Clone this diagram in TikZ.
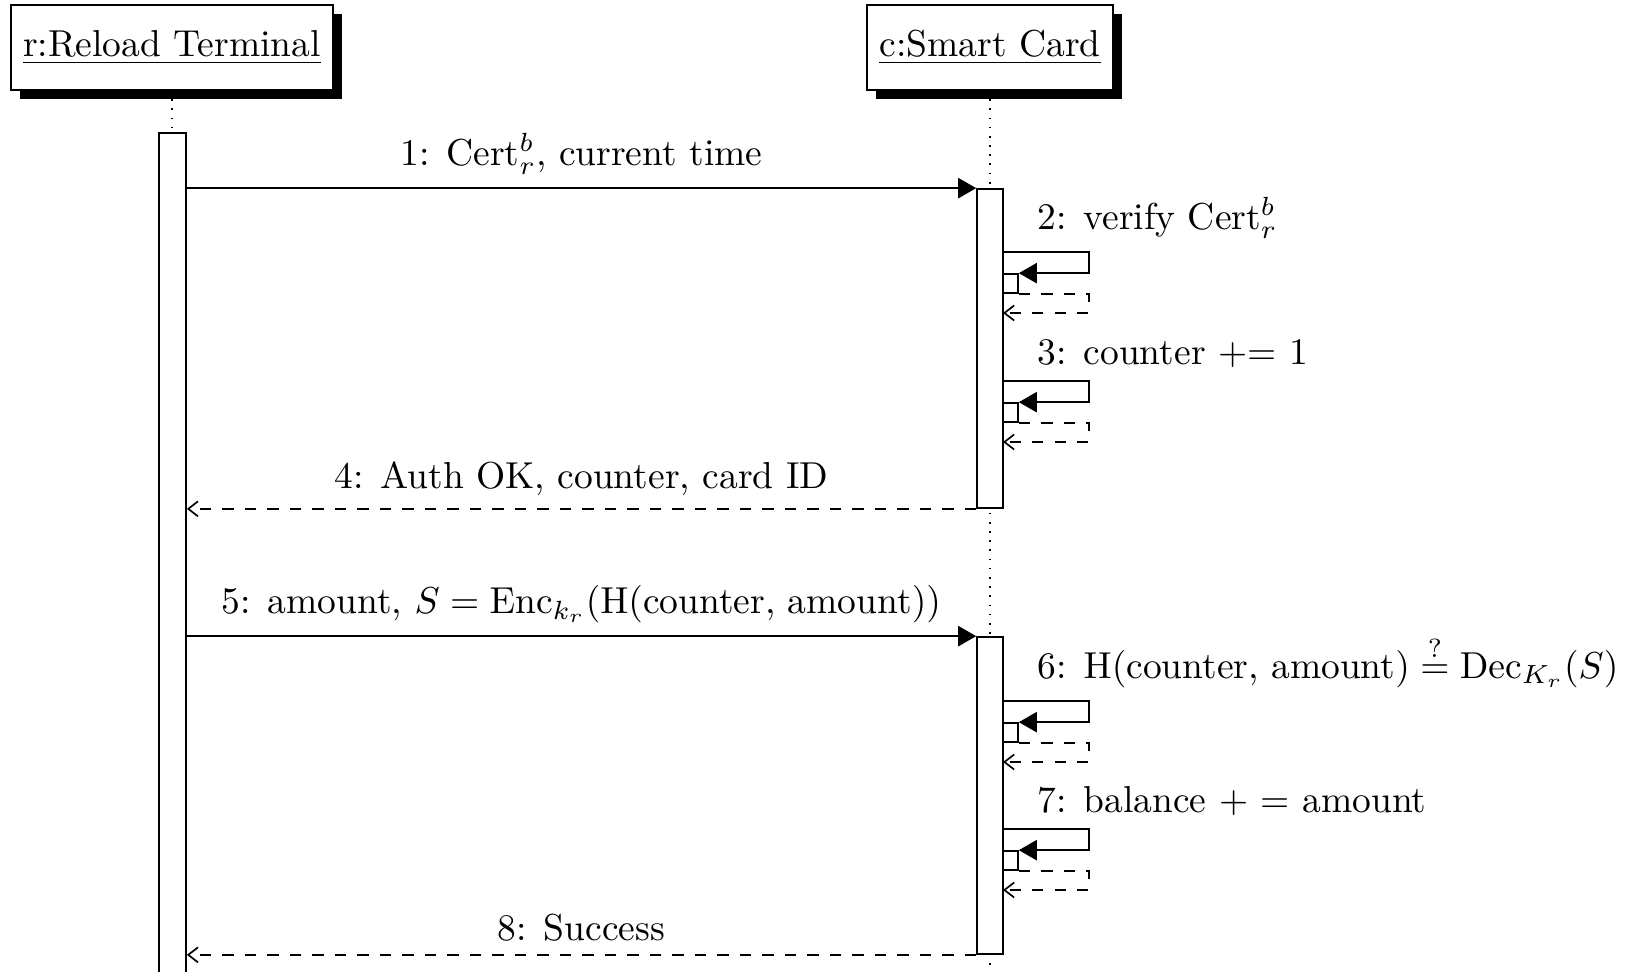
\documentclass[tikz,border=0pt]{standalone}
\usepackage{amsmath}
\usetikzlibrary{arrows.meta,shadows,fit}

\tikzset{
  inst/.style={draw, fill=white, rectangle, minimum height=0.8cm, inner sep=0.3333em,
    line width=0.45pt,
    drop shadow={opacity=1, fill=black, shadow xshift=2.4pt, shadow yshift=-2.4pt}},
  lifeline/.style={dotted, line width=0.45pt},
  actbox/.style={draw, fill=white, rectangle, inner sep=0pt, line width=0.45pt},
  callline/.style={-{Triangle[length=4.8pt,width=5.4pt]}, line width=0.45pt},
  retline/.style={dashed, -{Straight Barb[length=2.6pt,width=4pt]}, line width=0.45pt},
}

% self message on the card: call out and back into a nested block, then dashed return
\newcommand{\selfmsg}[3]{%
  \coordinate (#1-out) at (1003,#2);
  \coordinate (#1-turn) at (1089,#2);
  \coordinate (#1-a) at (1003,#2+22);
  \coordinate (#1-b) at (1018,#2+41);
  \coordinate (#1-back) at (1003,#2+61);
  \node[actbox, fit=(#1-a)(#1-b)] (#1-box) {};
  \draw[callline] (#1-out) -- node[pos=0.25, above right] (#1-lab) {#3} (#1-turn) |- (#1-box.north east);
  \draw[retline] (#1-box.south east) -- (#1-turn |- #1-box.south) |- (#1-back);
}

\begin{document}
\begin{tikzpicture}[x=0.26667pt, y=-0.26667pt]
\path[use as bounding box] (0,0) rectangle (1635,971);
\clip (0,0) rectangle (1635,971);

% lifelines
\coordinate (rt-end) at (172,1000);
\coordinate (sc-end) at (990,1000);
\draw[lifeline] (172,90) -- (rt-end);
\draw[lifeline] (990,90) -- (sc-end);

% activation blocks
\coordinate (tb-a) at (159,133);
\coordinate (tb-b) at (186,1000);
\node[actbox, fit=(tb-a)(tb-b)] (tb) {};
\coordinate (cb1-a) at (977,189);
\coordinate (cb1-b) at (1003,508);
\node[actbox, fit=(cb1-a)(cb1-b)] (cb1) {};
\coordinate (cb2-a) at (977,637);
\coordinate (cb2-b) at (1003,954);
\node[actbox, fit=(cb2-a)(cb2-b)] (cb2) {};

% instances
\node[inst] (rt) at (172,47.5) {\underline{r:Reload Terminal}};
\node[inst] (sc) at (990,47.5) {\underline{c:Smart Card}};

% messages
\draw[callline] (tb.east |- cb1.north) -- node[midway, above] (m1) {1: Cert$_r^b$, current time} (cb1.north west);
\selfmsg{s2}{252}{2: verify Cert$_r^b$}
\selfmsg{s3}{381}{3: counter += 1}
\draw[retline] (cb1.south west) -- node[midway, above] (m4) {4: Auth OK, counter, card ID} (tb.east |- cb1.south);
\draw[callline] (tb.east |- cb2.north) -- node[midway, above] (m5) {5: amount, $S = \mathrm{Enc}_{k_r}(\mathrm{H}(\text{counter, amount}))$} (cb2.north west);
\selfmsg{s6}{701}{6: $\mathrm{H}(\text{counter, amount}) \stackrel{?}{=} \mathrm{Dec}_{K_r}(S)$}
\selfmsg{s7}{829}{7: balance + = amount}
\draw[retline] (cb2.south west) -- node[midway, above] (m8) {8: Success} (tb.east |- cb2.south);
\end{tikzpicture}
\end{document}
